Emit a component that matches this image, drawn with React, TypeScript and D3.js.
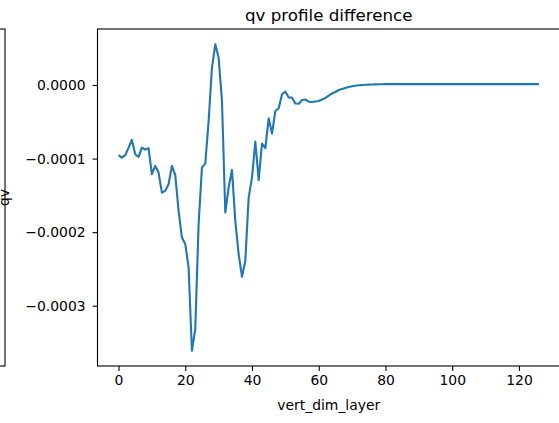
import { useEffect, useRef } from "react";
import * as d3 from "d3";

// qv 차이 (layer 0..126)
const qvDiff: number[] = [
  -9.54e-5, -9.87e-5, -9.54e-5, -8.55e-5, -7.46e-5, -9.41e-5, -9.77e-5, -8.51e-5, -8.76e-5, -8.59e-5,
  -1.212e-4, -1.1e-4, -1.19e-4, -1.462e-4, -1.439e-4, -1.348e-4, -1.1e-4, -1.222e-4, -1.71e-4, -2.073e-4,
  -2.162e-4, -2.48e-4, -3.611e-4, -3.316e-4, -1.891e-4, -1.122e-4, -1.068e-4, -4.89e-5, 2.35e-5, 5.53e-5,
  3.71e-5, -2.17e-5, -1.733e-4, -1.394e-4, -1.154e-4, -1.846e-4, -2.298e-4, -2.606e-4, -2.389e-4, -1.53e-4,
  -1.258e-4, -7.69e-5, -1.294e-4, -7.97e-5, -8.59e-5, -4.52e-5, -6.61e-5, -3.53e-5, -3.16e-5, -1.26e-5,
  -9.1e-6, -1.7e-5, -1.72e-5, -2.51e-5, -2.54e-5, -2.04e-5, -1.97e-5, -2.27e-5, -2.31e-5, -2.24e-5,
  -2.17e-5, -1.97e-5, -1.76e-5, -1.43e-5, -1.15e-5, -9.5e-6, -6.8e-6, -5.4e-6, -4.1e-6, -2.7e-6,
  -1.8e-6, -1.1e-6, -4e-7, 0, 3e-7, 5e-7, 7e-7, 8e-7, 9.5e-7, 1.1e-6,
  1.2e-6, 1.2e-6, 1.2e-6, 1.2e-6, 1.2e-6, 1.2e-6, 1.2e-6, 1.2e-6, 1.2e-6, 1.2e-6,
  1.2e-6, 1.2e-6, 1.2e-6, 1.2e-6, 1.2e-6, 1.2e-6, 1.2e-6, 1.2e-6, 1.2e-6, 1.2e-6,
  1.2e-6, 1.2e-6, 1.2e-6, 1.2e-6, 1.2e-6, 1.2e-6, 1.2e-6, 1.2e-6, 1.2e-6, 1.2e-6,
  1.2e-6, 1.2e-6, 1.2e-6, 1.2e-6, 1.2e-6, 1.2e-6, 1.2e-6, 1.2e-6, 1.2e-6, 1.2e-6,
  1.2e-6, 1.2e-6, 1.2e-6, 1.2e-6, 1.2e-6, 1.2e-6, 1.2e-6,
];

const xTicks = [0, 20, 40, 60, 80, 100, 120];
const yTicks = [0, -0.0001, -0.0002, -0.0003];

const title = "qv profile difference";
const xLabel = "vert_dim_layer";
const yLabel = "qv";

const W = 559;
const H = 423;
const FONT = "DejaVu Sans, sans-serif";

const App = () => {
  const svgRef = useRef<SVGSVGElement | null>(null);

  useEffect(() => {
    if (!svgRef.current) return;
    const root = d3.select(svgRef.current);
    root.selectAll("*").remove();

    const left = 97.5;
    const right = 560;
    const top = 29;
    const bottom = 366;

    // matplotlib 식 5% 여백
    const n = qvDiff.length - 1;
    const xPad = n * 0.05;
    const x = d3.scaleLinear().domain([-xPad, n + xPad]).range([left, right]);

    const [yMin, yMax] = d3.extent(qvDiff) as [number, number];
    const yPad = (yMax - yMin) * 0.05;
    const y = d3.scaleLinear().domain([yMin - yPad, yMax + yPad]).range([bottom, top]);

    // 왼쪽 서브플롯 잔재
    root
      .append("rect")
      .attr("x", -20)
      .attr("y", top)
      .attr("width", 25)
      .attr("height", bottom - top)
      .attr("fill", "none")
      .attr("stroke", "#000")
      .attr("stroke-width", 1.1);

    const fmt = (v: number) => (v < 0 ? "\u2212" + Math.abs(v).toFixed(4) : v.toFixed(4));

    // X축
    const gx = root
      .append("g")
      .attr("transform", `translate(0, ${bottom})`)
      .call(d3.axisBottom(x).tickValues(xTicks).tickSize(4.9).tickPadding(4.5).tickSizeOuter(0));
    gx.select(".domain").remove();
    gx.selectAll("line").attr("stroke", "#000").attr("stroke-width", 1.1);
    gx.selectAll("text")
      .attr("fill", "#000")
      .style("font-family", FONT)
      .style("font-size", "13.9px");

    // Y축
    const gy = root
      .append("g")
      .attr("transform", `translate(${left}, 0)`)
      .call(d3.axisLeft(y).tickValues(yTicks).tickFormat((d) => fmt(d as number)).tickSize(4.9).tickPadding(7));
    gy.select(".domain").remove();
    gy.selectAll("line").attr("stroke", "#000").attr("stroke-width", 1.1);
    gy.selectAll("text")
      .attr("fill", "#000")
      .style("font-family", FONT)
      .style("font-size", "13.9px");

    // 선
    const line = d3
      .line<number>()
      .x((_, i) => x(i))
      .y((d) => y(d));

    root
      .append("path")
      .datum(qvDiff)
      .attr("fill", "none")
      .attr("stroke", "#1f77b4")
      .attr("stroke-width", 2.1)
      .attr("stroke-linejoin", "round")
      .attr("d", line);

    // 테두리
    root
      .append("rect")
      .attr("x", left)
      .attr("y", top)
      .attr("width", right - left)
      .attr("height", bottom - top)
      .attr("fill", "none")
      .attr("stroke", "#000")
      .attr("stroke-width", 1.1);

    // 제목 / 라벨
    root
      .append("text")
      .attr("x", (left + right) / 2)
      .attr("y", 21)
      .attr("text-anchor", "middle")
      .style("font-family", FONT)
      .style("font-size", "16.7px")
      .text(title);

    root
      .append("text")
      .attr("x", (left + right) / 2)
      .attr("y", 410)
      .attr("text-anchor", "middle")
      .style("font-family", FONT)
      .style("font-size", "13.9px")
      .text(xLabel);

    root
      .append("text")
      .attr("transform", `translate(9, ${(top + bottom) / 2}) rotate(-90)`)
      .attr("text-anchor", "middle")
      .style("font-family", FONT)
      .style("font-size", "13.9px")
      .text(yLabel);
  }, []);

  return (
    <div style={{ position: "fixed", left: 0, top: 0, width: W, height: H, background: "#fff" }}>
      <svg ref={svgRef} width={W} height={H}></svg>
    </div>
  );
};

export default App;
